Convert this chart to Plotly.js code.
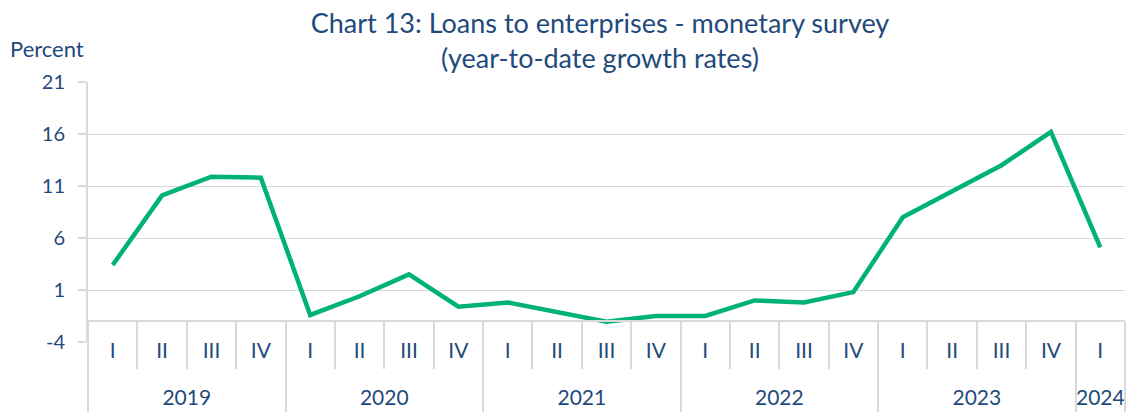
<!DOCTYPE html>
<html>
<head>
<meta charset="utf-8">
<script src="https://cdn.plot.ly/plotly-3.0.1.min.js"></script>
<style>
  html, body { margin: 0; padding: 0; background: #ffffff; }
  #chart { width: 1136px; height: 412px; }
</style>
</head>
<body>
<div id="chart"></div>
<script>
// ---- data ----
const years = ['2019','2019','2019','2019','2020','2020','2020','2020','2021','2021','2021','2021',
               '2022','2022','2022','2022','2023','2023','2023','2023','2024'];
const quarters = ['I','II','III','IV','I','II','III','IV','I','II','III','IV',
                  'I','II','III','IV','I','II','III','IV','I'];
const growth = [3.4, 10.1, 11.9, 11.8,
                -1.4, 0.4, 2.5, -0.6,
                -0.2, -1.1, -2.05, -1.5,
                -1.5, 0.0, -0.2, 0.8,
                8.0, 10.5, 13.0, 16.2,
                5.1];
const yTicks = [-4, 1, 6, 11, 16, 21];
const yTickText = ['-4', '1', '6', '11', '16', '21'];
const yRange = [-4, 21];
const axisCross = -2;

// ---- derived ----
const categories = years.map((y, i) => y + ' ' + quarters[i]);
const yearList = [...new Set(years)];
const yearCenters = yearList.map(y => {
  const idx = years.map((v, i) => v === y ? i : -1).filter(i => i >= 0);
  return (idx[0] + idx[idx.length - 1]) / 2;
});
const yearBounds = [];
yearList.forEach(y => { yearBounds.push(years.indexOf(y) - 0.5); });
yearBounds.push(years.length - 0.5);
const xRange = [-0.5, categories.length - 0.5];
const crossPos = (axisCross - yRange[0]) / (yRange[1] - yRange[0]);
const gridTicks = yTicks.filter(v => v > axisCross);

const navy = '#1F4A7C';
const grey = '#D9D9D9';
const fam = 'Lato, "Open Sans", sans-serif';

const traces = [
  {
    type: 'scatter', mode: 'lines',
    x: categories, y: growth,
    xaxis: 'x', yaxis: 'y',
    line: { color: '#00B27A', width: 4.5 },
    hoverinfo: 'x+y', showlegend: false
  },
  { type: 'scatter', mode: 'lines', x: [null], y: [null], xaxis: 'x2', yaxis: 'y', hoverinfo: 'skip', showlegend: false },
  { type: 'scatter', mode: 'lines', x: [null], y: [null], xaxis: 'x3', yaxis: 'y', hoverinfo: 'skip', showlegend: false },
  { type: 'scatter', mode: 'lines', x: [null], y: [null], xaxis: 'x', yaxis: 'y2', hoverinfo: 'skip', showlegend: false }
];

const layout = {
  width: 1136, height: 412,
  margin: { l: 88, r: 11, t: 82, b: 70, pad: 0 },
  paper_bgcolor: '#ffffff', plot_bgcolor: '#ffffff',
  font: { family: fam, color: navy },
  showlegend: false,
  title: {
    text: 'Chart 13: Loans to enterprises - monetary survey<br>(year-to-date growth rates)',
    font: { family: fam, size: 27, color: navy },
    x: 600 / 1136, xref: 'container', xanchor: 'center',
    y: 1, yref: 'container', yanchor: 'top',
    pad: { t: 33 }
  },
  xaxis: {
    type: 'category', range: xRange,
    anchor: 'free', position: crossPos,
    tickmode: 'array', tickvals: categories, ticktext: quarters,
    tickson: 'boundaries', ticks: 'outside', ticklen: 47, tickwidth: 2, tickcolor: grey,
    ticklabelstandoff: 11,
    tickfont: { family: fam, size: 21, color: navy },
    showline: true, linecolor: grey, linewidth: 2,
    showgrid: false, zeroline: false, fixedrange: true
  },
  xaxis2: {
    type: 'linear', range: xRange, overlaying: 'x',
    anchor: 'free', position: crossPos,
    tickmode: 'array', tickvals: yearCenters, ticktext: yearList,
    ticks: '', ticklabelstandoff: 62,
    tickfont: { family: fam, size: 21, color: navy },
    showline: false, showgrid: false, zeroline: false, fixedrange: true
  },
  xaxis3: {
    type: 'linear', range: xRange, overlaying: 'x',
    anchor: 'free', position: crossPos,
    tickmode: 'array', tickvals: yearBounds,
    ticks: 'outside', ticklen: 92, tickwidth: 2, tickcolor: grey,
    showticklabels: false,
    showline: false, showgrid: false, zeroline: false, fixedrange: true
  },
  yaxis: {
    range: yRange, tickmode: 'array', tickvals: yTicks, ticktext: yTickText,
    ticks: 'outside', ticklen: 8, tickwidth: 2, tickcolor: grey,
    ticklabelstandoff: 9,
    tickfont: { family: fam, size: 20, color: navy },
    showline: true, linecolor: grey, linewidth: 2,
    showgrid: false, zeroline: false, fixedrange: true
  },
  yaxis2: {
    range: yRange, overlaying: 'y', side: 'left',
    tickmode: 'array', tickvals: gridTicks,
    showticklabels: false, ticks: '',
    showgrid: true, gridcolor: grey, gridwidth: 1,
    showline: false, zeroline: false, fixedrange: true
  },
  annotations: [
    {
      text: 'Percent', xref: 'paper', yref: 'paper',
      x: (47 - 88) / 1037, y: (342 - 48) / 260,
      xanchor: 'center', yanchor: 'middle', showarrow: false,
      font: { family: fam, size: 22, color: navy }
    }
  ]
};

Plotly.newPlot('chart', traces, layout, { displayModeBar: false, staticPlot: true });
</script>
</body>
</html>
